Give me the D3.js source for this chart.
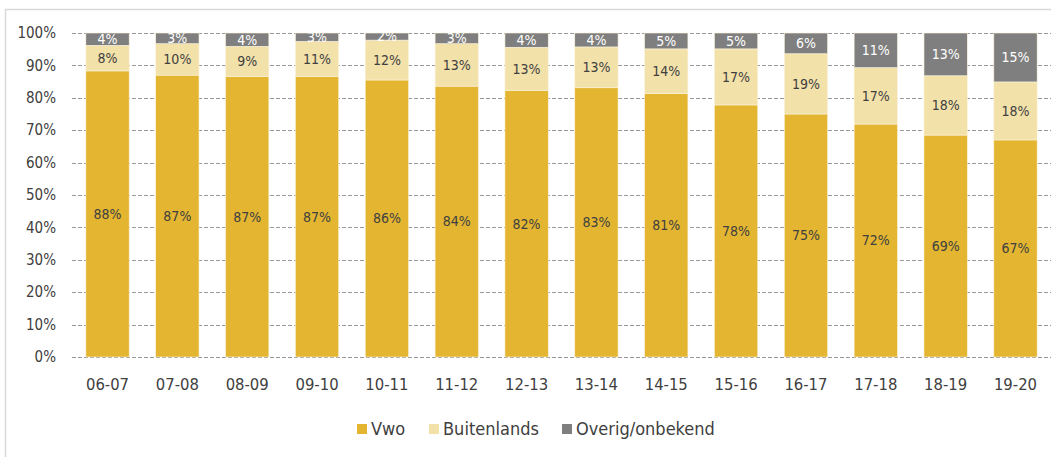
<!DOCTYPE html>
<html>
<head>
<meta charset="utf-8">
<script src="https://cdn.jsdelivr.net/npm/d3@7"></script>
<style>
  body { margin: 0; background: #fff; }
  svg text { font-family: 'DejaVu Sans Condensed', 'DejaVu Sans', sans-serif; fill: #404040; }
</style>
</head>
<body>
<div id="chart"></div>
<script>
const years = ['06-07', '07-08', '08-09', '09-10', '10-11', '11-12', '12-13', '13-14', '14-15', '15-16', '16-17', '17-18', '18-19', '19-20']
const vwo = [88.3, 87.0, 86.6, 86.6, 85.5, 83.6, 82.3, 83.1, 81.3, 77.8, 75.0, 71.9, 68.5, 67.0]
const buitenlands = [7.9, 9.7, 9.3, 10.8, 12.3, 13.1, 13.3, 12.6, 13.8, 17.3, 18.6, 17.4, 18.3, 17.9]
const overig = [3.8, 3.3, 4.1, 2.6, 2.2, 3.3, 4.4, 4.3, 4.9, 4.9, 6.4, 10.7, 13.2, 15.1]
const seriesNames = ['Vwo', 'Buitenlands', 'Overig/onbekend']
const yTicks = [0, 10, 20, 30, 40, 50, 60, 70, 80, 90, 100]

const colors = ['#e3b530', '#f3e1aa', '#7f7f7f']
const labelColors = ['#404040', '#404040', '#ffffff']

const width = 1051
const height = 457

const svg = d3
  .select('#chart')
  .append('svg')
  .attr('width', width)
  .attr('height', height)

// card border (left + top)
svg.append('path')
  .attr('d', 'M5.5,457 V9.5 H1051')
  .attr('fill', 'none')
  .attr('stroke', '#d9d9d9')
  .attr('stroke-width', 1.5)

const x = d3.scaleBand()
  .domain(years)
  .range([72.6, 1050.4])
  .paddingInner(0.38)
  .paddingOuter(0.19)

const y = d3.scaleLinear()
  .domain([0, 100])
  .range([357, 33])

// gridlines
svg.selectAll('.grid')
  .data(yTicks)
  .enter()
  .append('line')
  .attr('class', 'grid')
  .attr('x1', 72)
  .attr('x2', width)
  .attr('y1', d => Math.round(y(d)) + 0.5)
  .attr('y2', d => Math.round(y(d)) + 0.5)
  .attr('stroke', '#999')
  .attr('stroke-dasharray', '4,2')

// y labels
svg.selectAll('.ylab')
  .data(yTicks)
  .enter()
  .append('text')
  .attr('class', 'ylab')
  .attr('x', 56)
  .attr('y', d => y(d))
  .attr('dy', '0.35em')
  .attr('text-anchor', 'end')
  .attr('font-size', 15)
  .text(d => d + '%')

const table = years.map((yr, i) => ({ year: yr, Vwo: vwo[i], Buitenlands: buitenlands[i], 'Overig/onbekend': overig[i] }))
const stacked = d3.stack().keys(seriesNames)(table)

const layers = svg.selectAll('.layer')
  .data(stacked)
  .enter()
  .append('g')
  .attr('class', 'layer')

layers.selectAll('rect')
  .data((d, i) => d.map(p => ({ p, i })))
  .enter()
  .append('rect')
  .attr('x', d => x(d.p.data.year))
  .attr('width', x.bandwidth())
  .attr('y', d => y(d.p[1]))
  .attr('height', d => y(d.p[0]) - y(d.p[1]))
  .attr('fill', d => colors[d.i])
  .attr('stroke', '#fbf3dc')
  .attr('stroke-width', 0.6)

layers.selectAll('text')
  .data((d, i) => d.map(p => ({ p, i })))
  .enter()
  .append('text')
  .attr('x', d => x(d.p.data.year) + x.bandwidth() / 2)
  .attr('y', d => (y(d.p[0]) + y(d.p[1])) / 2)
  .attr('dy', '0.35em')
  .attr('text-anchor', 'middle')
  .attr('font-size', 14)
  .style('fill', d => labelColors[d.i])
  .text(d => Math.round(d.p[1] - d.p[0]) + '%')

// x labels
svg.selectAll('.xlab')
  .data(years)
  .enter()
  .append('text')
  .attr('class', 'xlab')
  .attr('x', d => x(d) + x.bandwidth() / 2)
  .attr('y', 384)
  .attr('dy', '0.35em')
  .attr('text-anchor', 'middle')
  .attr('font-size', 16.5)
  .text(d => d)

// legend
const legendX = [357, 429, 562]
const legend = svg.selectAll('.legend')
  .data(seriesNames)
  .enter()
  .append('g')
  .attr('class', 'legend')
  .attr('transform', (d, i) => 'translate(' + legendX[i] + ',429)')

legend.append('rect')
  .attr('x', 0)
  .attr('y', -5)
  .attr('width', 10)
  .attr('height', 10)
  .attr('fill', (d, i) => colors[i])

legend.append('text')
  .attr('x', 14)
  .attr('y', 0)
  .attr('dy', '0.35em')
  .attr('font-size', 18)
  .text(d => d)
</script>
</body>
</html>
